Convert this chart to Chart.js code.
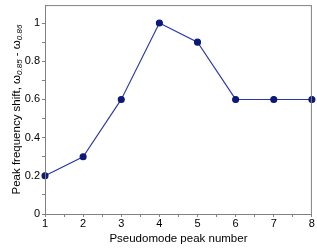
<!DOCTYPE html>
<html>
<head>
<meta charset="utf-8">
<script src="https://cdn.jsdelivr.net/npm/chart.js@4/dist/chart.umd.min.js"></script>
<style>
  html, body { margin: 0; padding: 0; background: #fff; }
  #wrap { width: 317px; height: 250px; }
</style>
</head>
<body>
<div id="wrap"><canvas id="myChart"></canvas></div>
<script>
// pseudomode peak number vs peak frequency shift
var peaks = [1, 2, 3, 4, 5, 6, 7, 8];
var shifts = [0.2, 0.3, 0.6, 1.0, 0.9, 0.6, 0.6, 0.6];
var yTickValues = [0, 0.1, 0.2, 0.3, 0.4, 0.5, 0.6, 0.7, 0.8, 0.9, 1.0];
var yTickLabels = ['0', '', '0.2', '', '0.4', '', '0.6', '', '0.8', '', '1'];

var font = '"Liberation Sans", Arial, sans-serif';
var axisGray = '#808080';

// frame round the plot + y title with subscripts
var framePlugin = {
  id: 'frame',
  afterDraw: function(chart) {
    var c = chart.ctx, a = chart.chartArea;
    c.save();
    c.strokeStyle = axisGray;
    c.lineWidth = 1;
    c.strokeRect(a.left + 0.5, a.top + 0.5, a.right - a.left - 1, a.bottom - a.top);
    // y title
    c.translate(17, (a.top + a.bottom) / 2);
    c.rotate(-Math.PI / 2);
    c.fillStyle = '#000';
    c.textBaseline = 'middle';
    var parts = [
      ['Peak frequency shift, \u03C9', 11.5, 0],
      ['0.85', 8, 3],
      [' - \u03C9', 11.5, 0],
      ['0.86', 8, 3]
    ];
    var total = 0;
    parts.forEach(function(p) {
      c.font = (p[1] === 8 ? 'italic ' : '') + p[1] + 'px ' + font;
      total += c.measureText(p[0]).width;
    });
    var x = -total / 2;
    parts.forEach(function(p) {
      c.font = (p[1] === 8 ? 'italic ' : '') + p[1] + 'px ' + font;
      c.fillText(p[0], x, p[2]);
      x += c.measureText(p[0]).width;
    });
    c.restore();
  }
};

var ctx = document.getElementById('myChart');
var myChart = new Chart(ctx, {
  type: 'line',
  data: {
    datasets: [{
      data: peaks.map(function(p, i) { return { x: p, y: shifts[i] }; }),
      borderColor: '#2536a8',
      borderWidth: 1.1,
      backgroundColor: '#0b1a78',
      pointBackgroundColor: '#0b1a78',
      pointBorderColor: '#0b1a78',
      pointRadius: 3,
      tension: 0,
      clip: false
    }]
  },
  options: {
    responsive: true,
    maintainAspectRatio: false,
    animation: false,
    layout: { padding: { left: 0, right: 5, top: 4, bottom: 0 } },
    plugins: { legend: { display: false }, tooltip: { enabled: false } },
    scales: {
      x: {
        type: 'linear',
        min: 1,
        max: 8,
        afterFit: function(s) { s.height = 36; },
        afterBuildTicks: function(s) {
          var t = [];
          for (var v = 1; v <= 8; v += 0.5) t.push({ value: v });
          s.ticks = t;
        },
        ticks: {
          autoSkip: false,
          maxRotation: 0,
          padding: 0,
          color: '#000',
          font: { family: font, size: 11 },
          callback: function(v) { return Number.isInteger(v) ? String(v) : ''; }
        },
        grid: { drawOnChartArea: false, tickLength: 3, color: axisGray },
        border: { color: axisGray },
        title: {
          display: true,
          text: 'Pseudomode peak number',
          color: '#000',
          font: { family: font, size: 11.5 },
          padding: { top: 0, bottom: 4 }
        }
      },
      y: {
        min: 0,
        max: 1.094,
        afterFit: function(s) { s.width = 45; s.paddingTop = 0; s.paddingBottom = 0; },
        afterBuildTicks: function(s) {
          s.ticks = yTickValues.map(function(v) { return { value: v }; });
        },
        ticks: {
          autoSkip: false,
          padding: 2,
          color: '#000',
          font: { family: font, size: 11 },
          callback: function(v, i) { return yTickLabels[i]; }
        },
        grid: { drawOnChartArea: false, tickLength: 3, color: axisGray },
        border: { color: axisGray },
        title: { display: false }
      }
    }
  },
  plugins: [framePlugin]
});
</script>
</body>
</html>
